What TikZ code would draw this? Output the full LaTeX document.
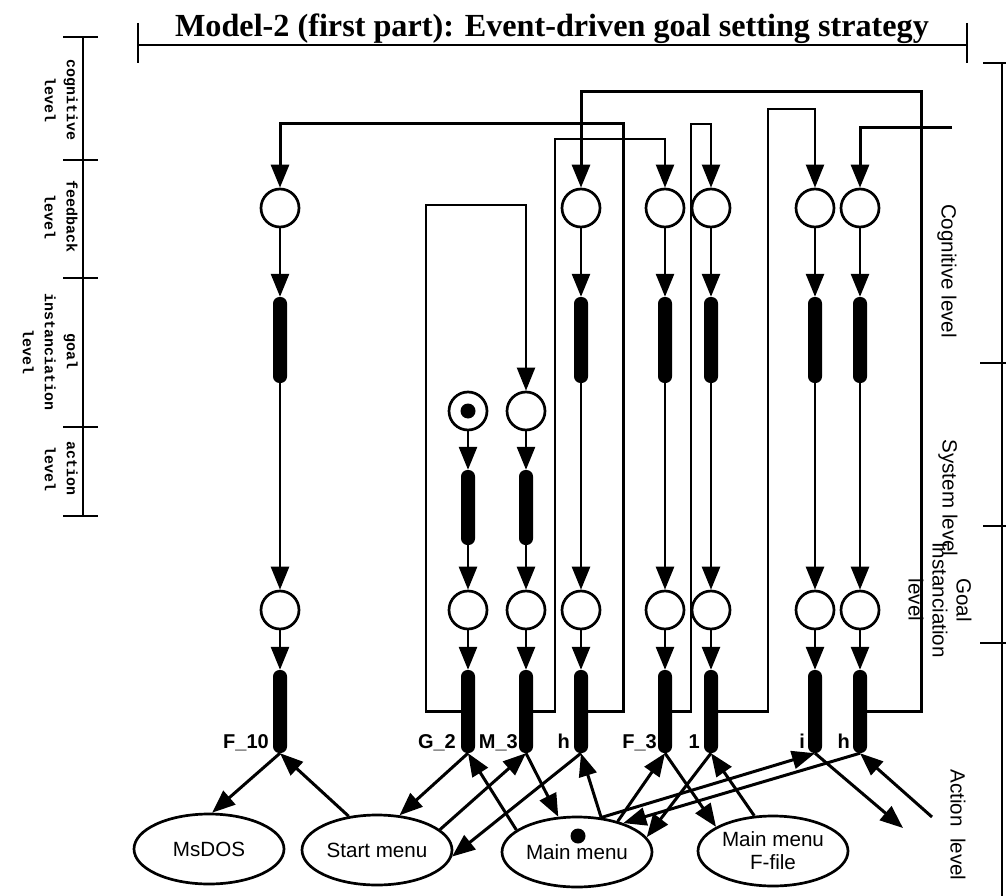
\documentclass[tikz,border=0pt]{standalone}
\usepackage{fontspec}
\setmainfont{Liberation Sans}
\newfontfamily\modeltitlefont{Liberation Serif}
\newfontfamily\lvlmono{Liberation Mono}
\usetikzlibrary{arrows.meta,shapes.geometric}

\begin{document}
\begin{tikzpicture}[x=1pt,y=-1pt,
  tip/.style={-{Triangle[length=23pt,width=18pt]}},
  flow/.style={line width=2.7pt,tip},
  act/.style={line width=3pt,tip},
  loop/.style={line width=2.2pt,tip},
  heavyloop/.style={line width=3pt,tip},
  scaleline/.style={line width=2pt},
  placenode/.style={circle,draw,line width=2.7pt,minimum size=38pt,inner sep=0pt},
  tokennode/.style={circle,fill,minimum size=15pt,inner sep=0pt},
  barnode/.style={rectangle,rounded corners=6.5pt,fill,minimum width=14pt,inner sep=0pt},
  screennode/.style={ellipse,draw,line width=2.7pt,minimum width=150pt,minimum height=70pt,
    inner sep=0pt,align=center,font=\fontsize{20.6}{23}\selectfont},
  tname/.style={font=\bfseries\fontsize{20}{24}\selectfont,anchor=base east,inner sep=0pt},
  lvl/.style={rotate=-90,align=center,inner sep=0pt,font=\fontsize{20.6}{24}\selectfont},
  sublvl/.style={rotate=-90,anchor=north,align=center,inner sep=0pt,
    font=\lvlmono\bfseries\fontsize{15}{22}\selectfont},
]
\useasboundingbox (0,0) rectangle (1006,896);

% title and its bracket
\node[anchor=base,inner sep=0pt,font=\modeltitlefont\bfseries\fontsize{32.2}{36}\selectfont]
  (title) at (552,37) {Model-2 (first part): Event-driven goal setting strategy};
\draw[scaleline] (138,45) -- (967,45);
\draw[scaleline] (138,23) -- (138,63);
\draw[scaleline] (967,23) -- (967,63);

% left level scale
\draw[scaleline] (83,37) -- (83,516);
\foreach \y in {37,160,278,427,516} \draw[scaleline] (63,\y) -- (98,\y);
\node[sublvl] (sl1) at (78,100) {cognitive\\level};
\node[sublvl] (sl2) at (78,217) {feedback\\level};
\node[sublvl] (sl3) at (78,352) {goal\\instanciation\\level};
\node[sublvl] (sl4) at (78,469) {action\\level};

% right level scale
\draw[scaleline] (1002,63) -- (1002,896);
\foreach \y/\a in {63/983,363/980,526/983,643/980} \draw[scaleline] (\a,\y) -- (1006,\y);
\node[lvl] (rl1) at (947,271) {Cognitive level};
\node[lvl] (rl2) at (948,498) {System level};
\node[lvl] (rl3) at (940,600) {Goal\\Instanciation\\level};
\node[lvl] (rl4) at (958,825) {Action~~level};

% full columns: feedback place, goal bar, goal place, action bar
\foreach \n/\x in {c1/280,c4/581,f3/665,c5/711,ci/815,c8/860} {
  \node[placenode] (t\n) at (\x,208) {};
  \node[barnode,minimum height=86pt] (u\n) at (\x,340) {};
  \node[placenode] (p\n) at (\x,610) {};
  \node[barnode,minimum height=83pt] (b\n) at (\x,711.5) {};
  \draw[flow] (t\n) -- (u\n);
  \draw[flow] (u\n) -- (p\n);
  \draw[flow] (p\n) -- (b\n);
}

% short columns starting at the action level
\foreach \n/\x in {g2/468,m3/526} {
  \node[placenode] (m\n) at (\x,411) {};
  \node[barnode,minimum height=75pt] (u\n) at (\x,507.5) {};
  \node[placenode] (p\n) at (\x,610) {};
  \node[barnode,minimum height=83pt] (b\n) at (\x,711.5) {};
  \draw[flow] (m\n) -- (u\n);
  \draw[flow] (u\n) -- (p\n);
  \draw[flow] (p\n) -- (b\n);
}
\node[tokennode] (tok1) at (mg2) {};

% transition names
\node[tname] (lf10) at (269,748) {F\_10};
\node[tname] (lg2) at (456,748) {G\_2};
\node[tname] (lm3) at (518,748) {M\_3};
\node[tname] (lh1) at (570,748) {h};
\node[tname] (lf3) at (657,748) {F\_3};
\node[tname] (l1) at (700,748) {1};
\node[tname] (li) at (805,748) {i};
\node[tname] (lh2) at (850,748) {h};

% feedback loops
\draw[loop] (bg2.west) -| (426,205) -| (mm3.north);
\draw[loop] (bm3.east) -| (555,139) -| (tf3.north);
\draw[heavyloop] (bc4.east) -| (623,124) -| (tc1.north);
\draw[loop] (bf3.east) -| (691,124) -| (tc5.north);
\draw[loop] (bc5.east) -| (768,109) -| (tci.north);
\draw[heavyloop] (bc8.east) -| (921,92) -| (tc4.north);
\coordinate (ext) at (952,128);
\draw[heavyloop] (ext) -| (tc8.north);

% screens
\node[screennode] (ms) at (209,849) {MsDOS};
\node[screennode] (sm) at (377,850) {Start menu};
\node[screennode] (mm) at (577,852) {\raisebox{-5pt}{Main menu}};
\node[tokennode] (tok2) at (578,836) {};
\node[screennode] (mf) at (773,851) {Main menu\\F-file};
\coordinate (iout) at (903,828);
\coordinate (hin) at (932,817);

% actions between screens and action bars
\draw[act] (bc1.south) -- (ms.85);
\draw[act] (sm.130) -- (bc1.south);
\draw[act] (bg2.south) -- (sm.57);
\draw[act] (sm.18) -- (bm3.south);
\draw[act] (bc4.south) -- (sm.-5);
\draw[act] (mm.160) -- (bg2.south);
\draw[act] (bm3.south) -- (mm.118);
\draw[act] (mm.55) -- (bc4.south);
\draw[act] (mm.37) -- (bf3.south);
\draw[act] (bf3.south) -- (mf.157);
\draw[act] (bc5.south) -- (mm.12);
\draw[act] (mf.118) -- (bc5.south);
\draw[act] (mm.55) -- (bci.south);
\draw[act] (bc8.south) -- (mm.32);
\draw[act] (bci.south) -- (iout);
\draw[act] (hin) -- (bc8.south);
\end{tikzpicture}
\end{document}
